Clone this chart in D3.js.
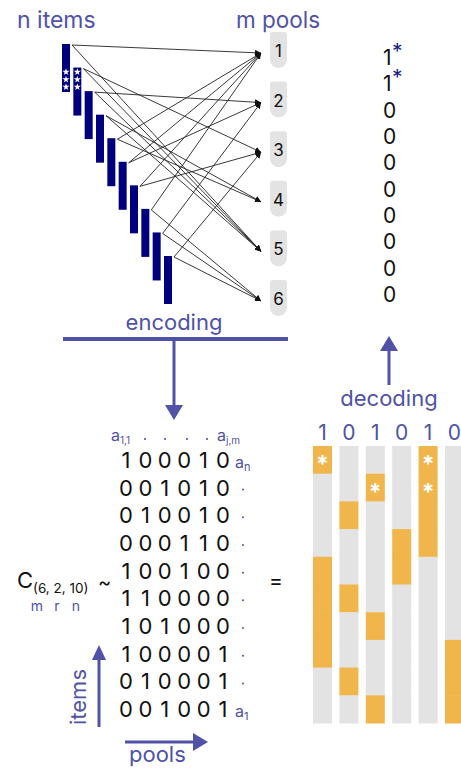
<!DOCTYPE html>
<html><head><meta charset="utf-8">
<script src="https://cdn.jsdelivr.net/npm/d3@7"></script>
<style>body{margin:0;background:#fff}svg{display:block}text{font-family:Inter,"Noto Sans",sans-serif}</style>
</head><body>
<svg id="c" width="461" height="769"></svg>
<script>
// ---- data ----
const itemIds = [1,2,3,4,5,6,7,8,9,10];
const poolLabels = ["1","2","3","4","5","6"];
const matrixRows = ["100010","001010","010010","000110","100100","110000","101000","100001","010001","001001"];
const poolResults = [1,0,1,0,1,0];
const decoded = [1,1,0,0,0,0,0,0,0,0];

const matrix = matrixRows.map(r => r.split("").map(Number));
const svg = d3.select("#c");
const BLUE = "#4f52a6", NAVY = "#00007f", ORANGE = "#f0b54b", GREY = "#e3e3e3";

// ---- scales ----
const itemX = d3.scaleLinear().domain([0,9]).range([62,164]);
const itemY = d3.scaleLinear().domain([0,9]).range([44,256]);
const poolY = d3.scaleLinear().domain([0,5]).range([32,280]);
const resY = d3.scaleLinear().domain([0,9]).range([65,302]);
const rowB = d3.scaleBand().domain(d3.range(10)).range([446,723]);
const digX = d3.scaleLinear().domain([0,5]).range([126,223]);
const colB = d3.scaleBand().domain(d3.range(6)).range([313,464]).paddingInner(0.28).paddingOuter(0);

// ---- titles ----
svg.append("text").attr("x",17).attr("y",28).attr("font-size",23).attr("fill",BLUE).text("n items");
svg.append("text").attr("x",236).attr("y",28).attr("font-size",22.5).attr("fill",BLUE).text("m pools");

// ---- arrow marker ----
svg.append("defs").append("marker").attr("id","ah").attr("viewBox","0 0 10 10")
  .attr("refX",10).attr("refY",5).attr("markerWidth",6).attr("markerHeight",6)
  .attr("markerUnits","userSpaceOnUse").attr("orient","auto")
  .append("path").attr("d","M0,0L10,5L0,10z").attr("fill","#111");

// ---- pools ----
const poolG = svg.append("g");
poolLabels.forEach((lab,p) => {
  const x0 = 270, w = 17, y0 = poolY(p), h = 36, rt = 3, rb = 8.5;
  const d = `M${x0},${y0+rt}Q${x0},${y0} ${x0+rt},${y0}L${x0+w-rt},${y0}Q${x0+w},${y0} ${x0+w},${y0+rt}`+
            `L${x0+w},${y0+h-rb}A${rb},${rb} 0 0 1 ${x0},${y0+h-rb}Z`;
  poolG.append("path").attr("d",d).attr("fill",GREY);
  poolG.append("text").attr("x",x0+w/2).attr("y",y0+25).attr("text-anchor","middle")
    .attr("font-size",17).attr("fill","#111").text(lab);
});

// ---- edges ----
const edges = [];
matrix.forEach((row,i) => row.forEach((v,p) => { if (v) edges.push({i,p}); }));
svg.append("g").selectAll("line").data(edges).join("line")
  .attr("x1",d => itemX(d.i)+10).attr("y1",d => itemY(d.i)+1)
  .attr("x2",261).attr("y2",d => poolY(d.p)+21)
  .attr("stroke","#222").attr("stroke-width",0.9).attr("marker-end","url(#ah)");

// ---- item bars ----
svg.append("g").selectAll("rect").data(itemIds).join("rect")
  .attr("x",(d,i) => itemX(i)).attr("y",(d,i) => itemY(i))
  .attr("width",8).attr("height",48).attr("fill",NAVY);
const starSym = d3.symbol(d3.symbolStar).size(16);
decoded.forEach((v,i) => {
  if (!v) return;
  [0,1,2].forEach(k => {
    svg.append("path").attr("d",starSym())
      .attr("transform",`translate(${itemX(i)+4},${itemY(0)+28+k*7.5})`).attr("fill","#fff");
  });
});

// ---- decoded column ----
const resG = svg.append("g");
decoded.forEach((v,i) => {
  const t = resG.append("text").attr("x",383).attr("y",resY(i)).attr("font-size",21).attr("fill","#111");
  t.append("tspan").text(v);
  if (v) t.append("tspan").attr("fill","#1a1a8c").attr("font-size",21).attr("dx",0.5).attr("dy",-6).text("*");
});

// ---- encoding / decoding arrows ----
svg.append("text").attr("x",174).attr("y",330).attr("text-anchor","middle").attr("font-size",22).attr("fill",BLUE).text("encoding");
svg.append("line").attr("x1",63).attr("x2",288).attr("y1",339).attr("y2",339).attr("stroke",BLUE).attr("stroke-width",4);
svg.append("line").attr("x1",174).attr("x2",174).attr("y1",339).attr("y2",406).attr("stroke",BLUE).attr("stroke-width",3);
svg.append("path").attr("d","M165,405L183,405L174,420Z").attr("fill",BLUE);

svg.append("line").attr("x1",389).attr("x2",389).attr("y1",385).attr("y2",350).attr("stroke",BLUE).attr("stroke-width",3);
svg.append("path").attr("d","M380,351L398,351L389,336Z").attr("fill",BLUE);
svg.append("text").attr("x",389).attr("y",406).attr("text-anchor","middle").attr("font-size",22).attr("fill",BLUE).text("decoding");

// ---- matrix ----
const hdr = svg.append("text").attr("x",111).attr("y",441).attr("font-size",16).attr("fill",BLUE);
hdr.append("tspan").text("a");
hdr.append("tspan").attr("font-size",10).attr("dy",3).text("1,1");
[145,165,187,207].forEach(x => svg.append("circle").attr("cx",x).attr("cy",439).attr("r",1.1).attr("fill",BLUE));
const hdr2 = svg.append("text").attr("x",217).attr("y",441).attr("font-size",16).attr("fill",BLUE);
hdr2.append("tspan").text("a");
hdr2.append("tspan").attr("font-size",10).attr("dy",3).text("j,m");

const mG = svg.append("g");
matrix.forEach((row,i) => {
  const cy = rowB(i) + rowB.bandwidth()/2;
  row.forEach((v,j) => {
    mG.append("text").attr("x",digX(j)).attr("y",cy+8).attr("text-anchor","middle")
      .attr("font-size",22).attr("fill","#111").text(v);
  });
  if (i === 0 || i === 9) {
    const t = mG.append("text").attr("x",235).attr("y",cy+8).attr("font-size",16).attr("fill",BLUE);
    t.append("tspan").text("a");
    t.append("tspan").attr("font-size",11).attr("dy",3).text(i === 0 ? "n" : "1");
  } else {
    mG.append("circle").attr("cx",243).attr("cy",cy+2).attr("r",1).attr("fill",BLUE);
  }
});

// ---- C label ----
svg.append("text").attr("x",17).attr("y",588).attr("font-size",22).attr("fill","#111").text("C");
svg.append("text").attr("x",33).attr("y",593).attr("font-size",13.5).attr("fill","#111").text("(6, 2, 10)");
svg.append("text").attr("x",98).attr("y",589).attr("font-size",20).attr("fill","#111").text("~");
[["m",37],["r",57],["n",76]].forEach(([s,x]) => svg.append("text").attr("x",x).attr("y",611)
  .attr("text-anchor","middle").attr("font-size",14).attr("fill",BLUE).text(s));
svg.append("text").attr("x",276).attr("y",588).attr("text-anchor","middle").attr("font-size",21).attr("fill","#111").text("=");

// ---- pool bars ----
const bG = svg.append("g");
poolResults.forEach((r,j) => {
  bG.append("text").attr("x",colB(j)+colB.bandwidth()/2).attr("y",440).attr("text-anchor","middle")
    .attr("font-size",21).attr("fill",BLUE).text(r);
  matrix.forEach((row,i) => {
    bG.append("rect").attr("x",colB(j)).attr("y",rowB(i)).attr("width",colB.bandwidth())
      .attr("height",rowB.bandwidth()+0.5).attr("fill",row[j] ? ORANGE : GREY);
    if (row[j] && decoded[i]) {
      bG.append("text").attr("x",colB(j)+colB.bandwidth()/2).attr("y",rowB(i)+rowB.bandwidth()/2+12)
        .attr("text-anchor","middle").attr("font-size",23).attr("font-weight","bold").attr("fill","#fff").text("*");
    }
  });
});

// ---- items / pools arrows ----
svg.append("line").attr("x1",99).attr("x2",99).attr("y1",727).attr("y2",659).attr("stroke",BLUE).attr("stroke-width",3);
svg.append("path").attr("d","M92,660L106,660L99,645Z").attr("fill",BLUE);
svg.append("text").attr("transform","translate(86,697) rotate(-90)").attr("text-anchor","middle")
  .attr("font-size",22).attr("fill",BLUE).text("items");
svg.append("line").attr("x1",125).attr("x2",194).attr("y1",742).attr("y2",742).attr("stroke",BLUE).attr("stroke-width",3);
svg.append("path").attr("d","M193,733L193,751L208,742Z").attr("fill",BLUE);
svg.append("text").attr("x",129).attr("y",762).attr("font-size",22).attr("fill",BLUE).text("pools");
</script>
</body></html>
